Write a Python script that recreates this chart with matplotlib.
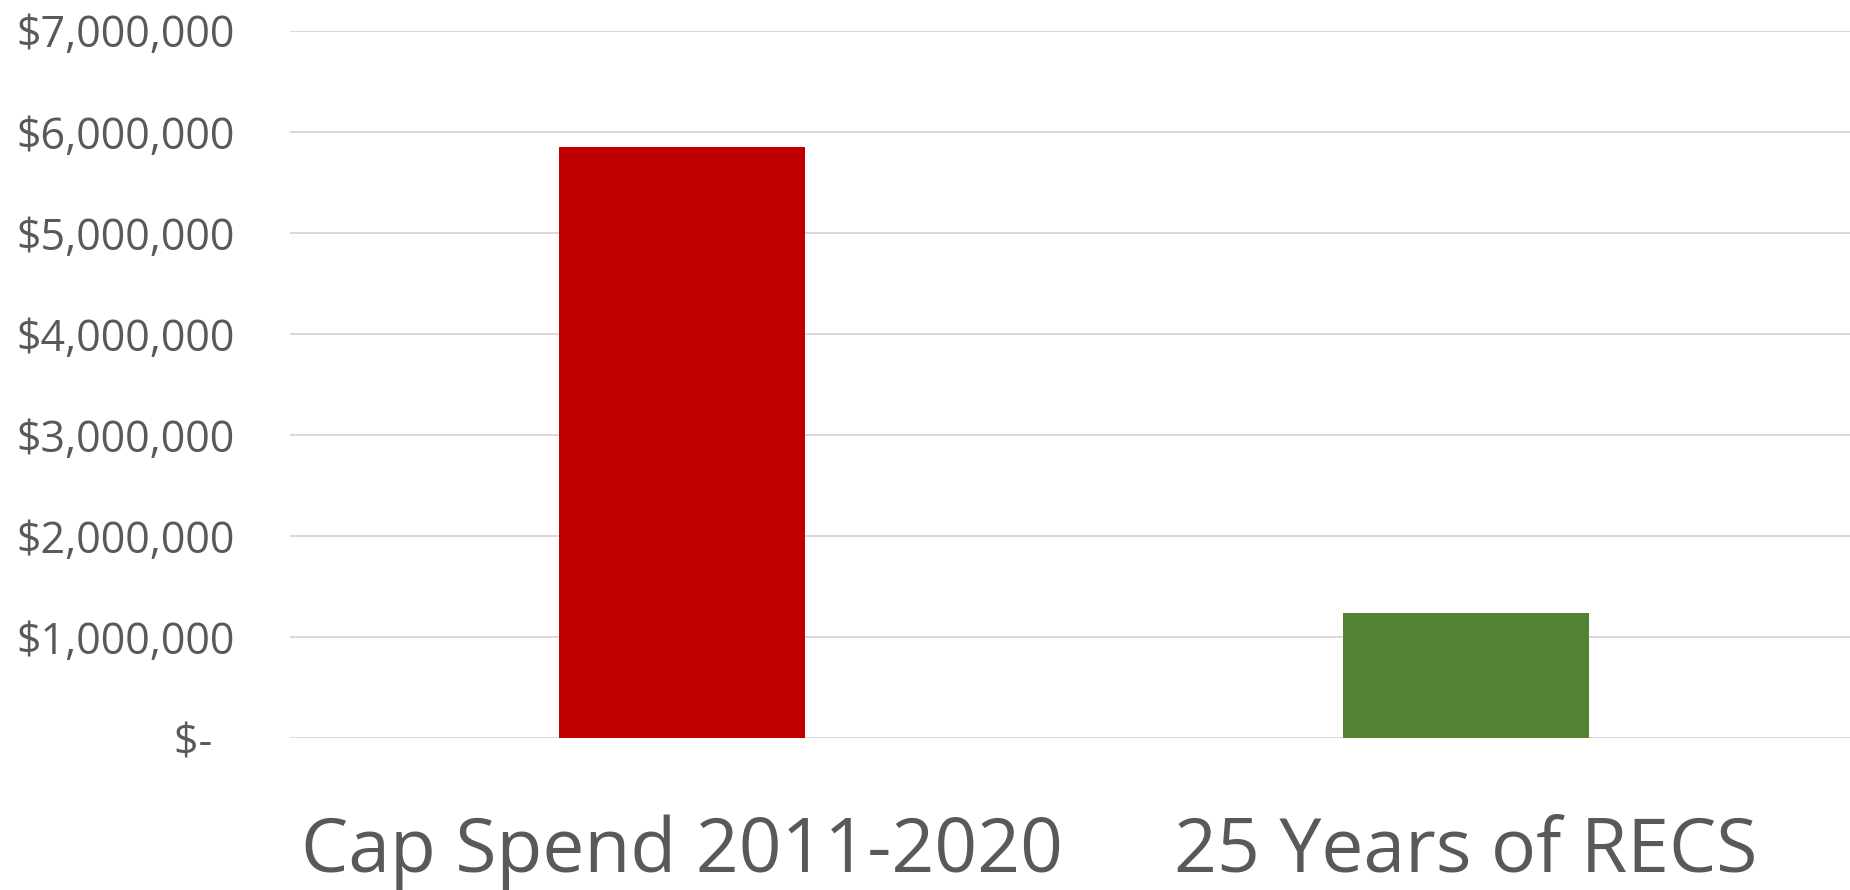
import matplotlib
matplotlib.use("Agg")
import matplotlib.pyplot as plt
from matplotlib.ticker import FuncFormatter, MultipleLocator

plt.rcParams["font.family"] = ["Open Sans", "DejaVu Sans"]

categories = ["Cap Spend 2011-2020", "25 Years of RECS"]
amounts = [5850000, 1240000]
bar_colors = ["#C00000", "#548235"]

TEXT_GREY = "#595959"
GRID_GREY = "#D9D9D9"


def dollars(v, _pos):
    if v == 0:
        return "$-  "
    return f"${v:,.0f}"


fig = plt.figure(figsize=(18.5, 8.9), dpi=100)
ax = fig.add_axes([0.1568, 0.1704, 0.8432, 0.7951])

ax.bar(range(len(categories)), amounts, width=0.313, color=bar_colors, zorder=3)

ax.set_xlim(-0.5, 1.49)
ax.set_ylim(0, 7000000)
ax.yaxis.set_major_locator(MultipleLocator(1000000))
ax.yaxis.set_major_formatter(FuncFormatter(dollars))
ax.set_xticks(range(len(categories)))
ax.set_xticklabels(categories)

ax.grid(axis="y", color=GRID_GREY, linewidth=1.4, zorder=0)
for side in ("top", "right", "left", "bottom"):
    ax.spines[side].set_visible(False)

ax.tick_params(axis="y", length=0, pad=40, labelsize=31, labelcolor=TEXT_GREY)
ax.tick_params(axis="x", length=0, pad=55, labelsize=54, labelcolor=TEXT_GREY)

fig.savefig("out.png", dpi=100)
